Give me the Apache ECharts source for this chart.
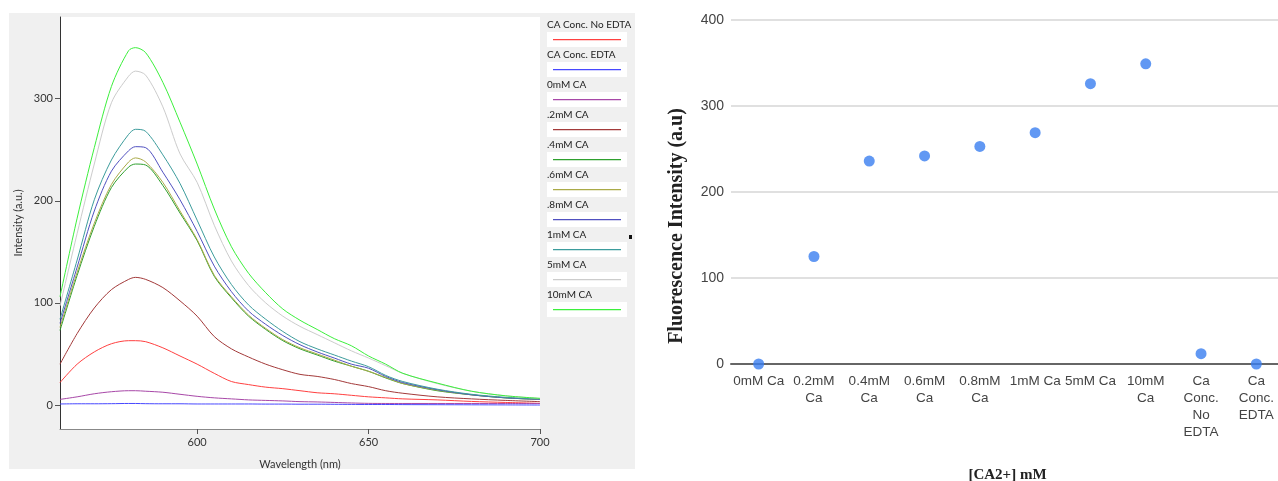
<!DOCTYPE html>
<html>
<head>
<meta charset="utf-8">
<script src="https://cdn.jsdelivr.net/npm/echarts@6/dist/echarts.min.js"></script>
<style>
html, body { margin: 0; padding: 0; background: #fff; }
#chart-panel { width: 1278px; height: 481px; }
</style>
</head>
<body>
<div id="chart-panel"></div>
<script>
// left panel: emission spectra
var wavelengths = [560, 565, 570, 575, 580, 582, 585, 590, 595, 600, 605, 610, 615, 620, 625, 630, 635, 640, 645, 650, 655, 660, 670, 680, 690, 700];
var noEdta  = [22, 40, 52, 60, 63, 63, 62, 56, 48, 40, 31, 23, 20, 17.5, 16, 14, 12, 11, 9.5, 8, 7, 6, 5, 3.5, 2.5, 1.6];
var edta    = [1, 1.2, 1.2, 1.3, 1.5, 1.5, 1.3, 1.2, 1.2, 1, 1, 1, 1, 0.9, 0.9, 0.8, 0.8, 0.7, 0.6, 0.5, 0.5, 0.4, 0.3, 0.2, 0.1, 0];
var ca0     = [5.5, 8, 11, 13, 14, 14, 13.5, 12.5, 10.5, 8.5, 7, 6, 5, 4.5, 4, 3.3, 3, 2.5, 2, 1.6, 1.5, 1.5, 1.5, 1.5, 1.5, 1.5];
var ca02    = [40, 70, 95, 113, 123, 125, 123, 115, 102, 87, 67, 55, 47, 40, 34.5, 30, 28, 25, 21, 18, 14, 11.5, 8, 6, 4.5, 3.3];
var ca04    = [73, 127, 175, 213, 233, 236, 235, 215, 188, 161, 126, 105, 87, 74, 63, 55, 49, 43, 38, 33, 26.5, 21, 14, 10, 7, 5.5];
var ca06    = [76, 130, 178, 216, 238, 242, 238, 218, 190, 162, 127, 106, 88, 75, 64, 56, 50, 44, 38, 33, 27, 21, 14.5, 10, 7, 5.5];
var ca08    = [80, 135, 190, 229, 249, 253, 252, 228, 201, 170, 136, 111, 92, 79, 68, 59, 52, 46, 40, 36, 28, 22, 15, 10, 7, 5.5];
var ca1     = [84, 142, 201, 240, 265, 270, 268, 245, 217, 181, 145, 118, 98, 84, 72, 62, 55, 49, 43, 37.5, 29, 23, 15.5, 10.5, 7.5, 5.9];
var ca5     = [97, 168, 236, 296, 322, 327, 323, 292, 246, 218, 176, 141, 117, 100, 87, 77, 69, 61, 53, 46, 38.5, 31, 21, 13.5, 9, 6.5];
var ca10    = [106, 183, 252, 312, 347, 350, 345, 316, 277, 236, 192, 155, 129, 110, 94, 83, 74, 65, 58, 48, 40, 31, 21.5, 13.5, 9, 6.5];

var spectraNames = ['CA Conc. No EDTA', 'CA Conc. EDTA', '0mM CA', '.2mM CA', '.4mM CA', '.6mM CA', '.8mM CA', '1mM CA', '5mM CA', '10mM CA'];
var spectraValues = [noEdta, edta, ca0, ca02, ca04, ca06, ca08, ca1, ca5, ca10];
var spectraColors = ['#ff4040', '#4848ff', '#a848a8', '#a33a3a', '#2ea02e', '#aaaa48', '#5050c0', '#3c9c9c', '#cccccc', '#3cf03c'];
var leftYTicks = [0, 100, 200, 300];
var leftXTicks = [600, 650, 700];

// right panel: peak intensities
var categories = ['0mM Ca', '0.2mM\nCa', '0.4mM\nCa', '0.6mM\nCa', '0.8mM\nCa', '1mM Ca', '5mM Ca', '10mM\nCa', 'Ca\nConc.\nNo\nEDTA', 'Ca\nConc.\nEDTA'];
var peakValues = [0, 125, 236, 242, 253, 269, 326, 349, 12, 0];

var chart = echarts.init(document.getElementById('chart-panel'));

var leftFont = 'Lato, "Liberation Sans", sans-serif';
var rightFont = '"Liberation Sans", Arial, sans-serif';

// series for the spectra
var series = [];
for (var i = 0; i < spectraNames.length; i++) {
    var pts = [];
    for (var j = 0; j < wavelengths.length; j++) {
        pts.push([wavelengths[j], spectraValues[i][j]]);
    }
    series.push({
        name: spectraNames[i],
        type: 'line',
        xAxisIndex: 0,
        yAxisIndex: 0,
        data: pts,
        smooth: 0.3,
        showSymbol: false,
        lineStyle: { color: spectraColors[i], width: 1 },
        itemStyle: { color: spectraColors[i] }
    });
}
series.push({
    type: 'scatter',
    xAxisIndex: 1,
    yAxisIndex: 1,
    data: peakValues,
    symbolSize: 11,
    itemStyle: { color: '#3a7ef0' }
});

// background panel + hand made legend of the left chart
var graphics = [
    { type: 'rect', z: -10, shape: { x: 9, y: 13, width: 626, height: 456 }, style: { fill: '#f0f0f0' } },
    { type: 'rect', z: -9, shape: { x: 60, y: 17, width: 480, height: 412 }, style: { fill: '#ffffff' } },
    { type: 'rect', shape: { x: 629, y: 235, width: 3, height: 4 }, style: { fill: '#111' } },
    {
        type: 'text', x: 677, y: 226, rotation: Math.PI / 2,
        style: {
            text: 'Fluorescence Intensity (a.u)', fill: '#222',
            font: 'bold 20px "Liberation Serif", serif',
            textAlign: 'center', textVerticalAlign: 'middle'
        }
    }
];
for (var k = 0; k < spectraNames.length; k++) {
    var rowY = 25 + 30 * k;
    graphics.push({
        type: 'text', x: 547, y: rowY,
        style: { text: spectraNames[k], fill: '#222', font: '10px ' + leftFont, textVerticalAlign: 'middle' }
    });
    graphics.push({ type: 'rect', shape: { x: 547, y: rowY + 7, width: 80, height: 15 }, style: { fill: '#fff' } });
    graphics.push({
        type: 'rect', shape: { x: 553, y: rowY + 14, width: 68, height: 1.2 },
        style: { fill: spectraColors[k] }
    });
}

var option = {
    backgroundColor: '#fff',
    animation: false,
    graphic: graphics,
    grid: [
        { left: 60, top: 17, width: 480, height: 412, outerBoundsMode: 'none', containLabel: false },
        { left: 731, top: 20, width: 553, height: 344, outerBoundsMode: 'none', containLabel: false }
    ],
    xAxis: [{
        type: 'value',
        gridIndex: 0,
        min: 560,
        max: 700,
        name: 'Wavelength (nm)',
        nameLocation: 'middle',
        nameGap: 30,
        nameTextStyle: { fontFamily: leftFont, fontSize: 11, color: '#333' },
        axisLine: { onZero: false, lineStyle: { color: '#888', width: 1 } },
        axisTick: { length: 5, customValues: leftXTicks, lineStyle: { color: '#555' } },
        axisLabel: { customValues: leftXTicks, fontFamily: leftFont, fontSize: 11, color: '#333', margin: 8 },
        splitLine: { show: false }
    }, {
        type: 'category',
        gridIndex: 1,
        data: categories,
        name: '[CA2+] mM',
        nameLocation: 'middle',
        nameGap: 104,
        nameTextStyle: { fontFamily: '"Liberation Serif", serif', fontWeight: 'bold', fontSize: 15, color: '#222' },
        axisLine: { lineStyle: { color: '#666', width: 2 } },
        axisTick: { show: false },
        axisLabel: { interval: 0, fontFamily: rightFont, fontSize: 13.5, lineHeight: 17, color: '#444', margin: 9 }
    }],
    yAxis: [{
        type: 'value',
        gridIndex: 0,
        min: -23.5,
        max: 380,
        name: 'Intensity (a.u.)',
        nameLocation: 'middle',
        nameGap: 36,
        nameRotate: 90,
        nameTextStyle: { fontFamily: leftFont, fontSize: 11, color: '#333' },
        axisLine: { show: true, onZero: false, lineStyle: { color: '#333', width: 1 } },
        axisTick: { show: true, length: 5, customValues: leftYTicks, lineStyle: { color: '#555' } },
        axisLabel: { customValues: leftYTicks, fontFamily: leftFont, fontSize: 11, color: '#333', margin: 7 },
        splitLine: { show: false }
    }, {
        type: 'value',
        gridIndex: 1,
        min: 0,
        max: 400,
        interval: 100,
        axisLine: { show: false },
        axisTick: { show: false },
        axisLabel: { fontFamily: rightFont, fontSize: 14, color: '#444', margin: 7 },
        splitLine: { lineStyle: { color: '#d6d6d6', width: 1.5 } }
    }],
    series: series
};

chart.setOption(option);
</script>
</body>
</html>
